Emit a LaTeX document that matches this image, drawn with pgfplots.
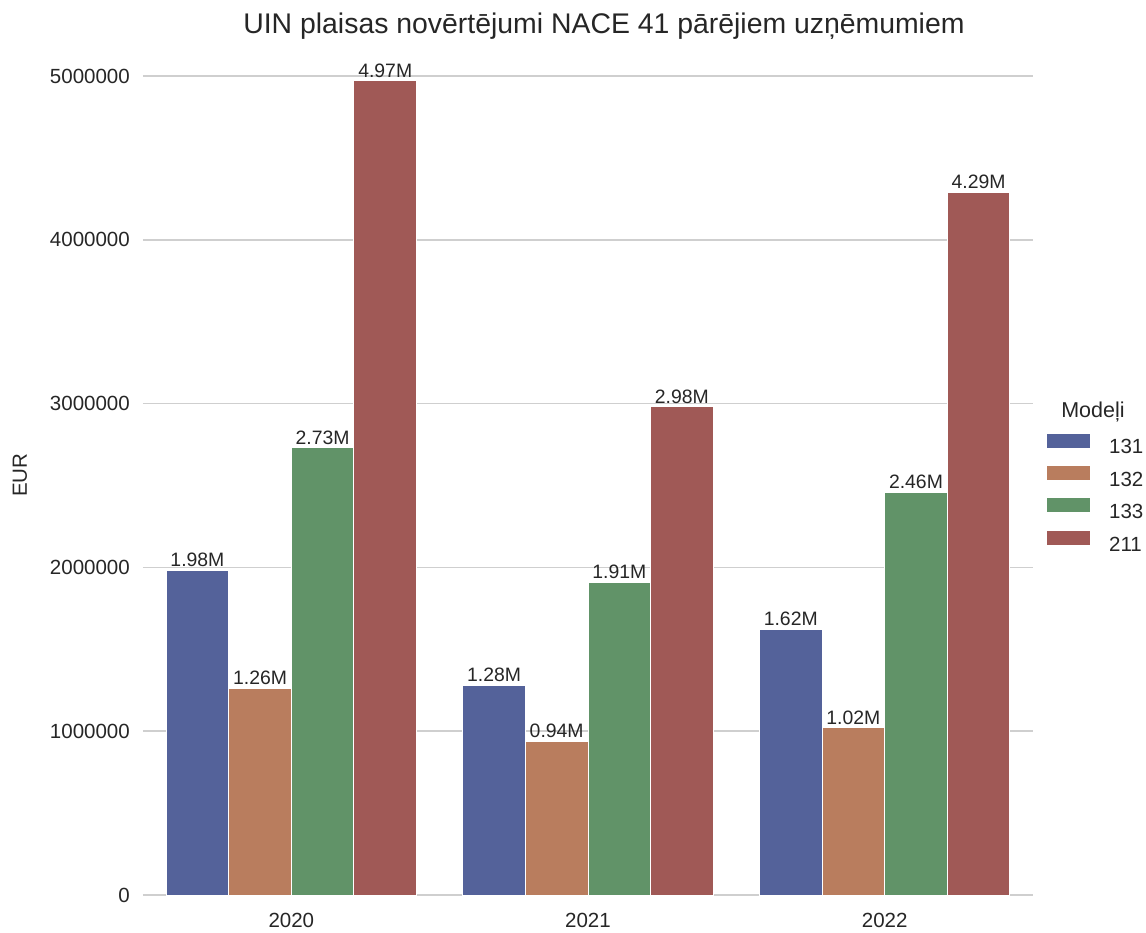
\documentclass[border=0pt]{standalone}
\usepackage{fontspec}
\setmainfont{Liberation Sans}
\usepackage{pgfplots}
\pgfplotsset{compat=1.18}
\definecolor{c131}{RGB}{84,98,154}
\definecolor{c132}{RGB}{185,125,94}
\definecolor{c133}{RGB}{97,147,104}
\definecolor{c211}{RGB}{160,89,86}
\definecolor{txt}{HTML}{262626}
\definecolor{gridc}{HTML}{CFCFCF}
\begin{document}
\begin{tikzpicture}
\path[use as bounding box] (-143pt,-37pt) rectangle (1003pt,895pt);
\begin{axis}[
  at={(0,0)}, anchor=south west,
  scale only axis, width=890pt, height=855pt,
  xmin=-0.5, xmax=2.5, ymin=0, ymax=5220000,
  xtick={0,1,2}, xticklabels={2020,2021,2022},
  ytick={0,1000000,2000000,3000000,4000000,5000000},
  yticklabels={0,1000000,2000000,3000000,4000000,5000000},
  scaled y ticks=false,
  major tick length=0pt,
  axis line style={draw=none},
  ymajorgrids, major grid style={gridc, line width=1.5pt},
  ticklabel style={font=\fontsize{20.5}{24}\selectfont, text=txt},
  yticklabel style={anchor=east, inner sep=0pt, xshift=-13pt},
  xticklabel style={anchor=north, inner sep=0pt, yshift=-18pt},
  ylabel={EUR},
  ylabel style={at={(axis description cs:-0.1382,0.491)}, anchor=center, font=\fontsize{20.5}{24}\selectfont, text=txt},
  title={UIN plaisas novērtējumi NACE 41 pārējiem uzņēmumiem},
  title style={at={(axis description cs:0.5,1)}, anchor=base, yshift=0pt, xshift=16pt, font=\fontsize{28.4}{32}\selectfont, text=txt},
  ybar=0pt, bar width=0.211,
  point meta=explicit symbolic,
  nodes near coords,
  nodes near coords style={anchor=south, inner sep=0pt, yshift=3pt, font=\fontsize{19.4}{22}\selectfont, text=txt},
  legend cell align=left,
  legend style={at={(axis description cs:1.0157,0.540)}, anchor=north west, draw=none, fill=none, inner sep=0pt, row sep=10.5pt, column sep=19pt, nodes={inner sep=0pt, text=txt}, font=\fontsize{20.5}{24}\selectfont},
  legend image code/.code={\fill[#1,draw=none] (0pt,0pt) rectangle (43pt,14pt);},
  clip=false,
]
\addplot[bar shift=-0.3165, fill=c131, draw=white, line width=1pt] coordinates {(0,1980000) [1.98M] (1,1280000) [1.28M] (2,1620000) [1.62M]};
\addplot[bar shift=-0.1055, fill=c132, draw=white, line width=1pt] coordinates {(0,1260000) [1.26M] (1,940000) [0.94M] (2,1020000) [1.02M]};
\addplot[bar shift=0.1055, fill=c133, draw=white, line width=1pt] coordinates {(0,2730000) [2.73M] (1,1910000) [1.91M] (2,2460000) [2.46M]};
\addplot[bar shift=0.3165, fill=c211, draw=white, line width=1pt] coordinates {(0,4970000) [4.97M] (1,2980000) [2.98M] (2,4290000) [4.29M]};
\legend{131,132,133,211}
\node[text=txt, font=\fontsize{21.5}{25}\selectfont] at (axis description cs:1.0674,0.565) {Modeļi};
\end{axis}
\end{tikzpicture}
\end{document}
